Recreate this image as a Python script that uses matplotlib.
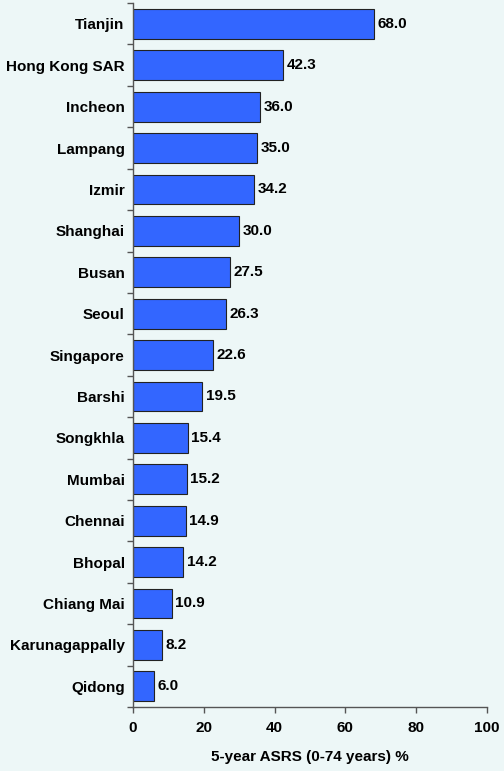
import matplotlib
matplotlib.use("Agg")
import matplotlib.pyplot as plt
import numpy as np

cities = ["Tianjin", "Hong Kong SAR", "Incheon", "Lampang", "Izmir", "Shanghai",
          "Busan", "Seoul", "Singapore", "Barshi", "Songkhla", "Mumbai",
          "Chennai", "Bhopal", "Chiang Mai", "Karunagappally", "Qidong"]
asrs = [68.0, 42.3, 36.0, 35.0, 34.2, 30.0, 27.5, 26.3, 22.6, 19.5, 15.4,
        15.2, 14.9, 14.2, 10.9, 8.2, 6.0]
xticks = [0, 20, 40, 60, 80, 100]

plt.rcParams['font.family'] = ['Liberation Sans', 'DejaVu Sans']
bg = '#edf7f7'
fs = 11

fig = plt.figure(figsize=(5.04, 7.71), dpi=100, facecolor=bg)
ax = fig.add_axes([0.264, 0.083, 0.702, 0.913], facecolor=bg)

y = np.arange(len(cities))
ax.barh(y, asrs, height=0.72, color='#3366ff', edgecolor='#222222', linewidth=0.8)
for yi, v in zip(y, asrs):
    ax.text(v + 1.0, yi, f"{v:.1f}", va='center', ha='left', fontsize=fs, fontweight='bold')

ax.set_xlim(0, 100)
ax.set_ylim(len(cities) - 0.5, -0.5)
ax.set_xticks(xticks)
ax.set_xticklabels([str(t) for t in xticks], fontsize=fs, fontweight='bold')
ax.set_yticks(y)
ax.set_yticklabels(cities, fontsize=fs, fontweight='bold')
# small ticks between the bars, like the original
ax.set_yticks(np.arange(-0.5, len(cities)), minor=True)
ax.tick_params(axis='y', which='major', length=0, pad=6)
ax.tick_params(axis='y', which='minor', length=4, color='#555555', width=1)
ax.tick_params(axis='x', length=4, color='#555555', width=1, pad=6)
ax.set_xlabel("5-year ASRS (0-74 years) %", fontsize=fs, fontweight='bold', labelpad=11)

for s in ['top', 'right']:
    ax.spines[s].set_visible(False)
for s in ['left', 'bottom']:
    ax.spines[s].set_color('#555555')
    ax.spines[s].set_linewidth(1)

fig.savefig("out.png", dpi=100, facecolor=bg)
